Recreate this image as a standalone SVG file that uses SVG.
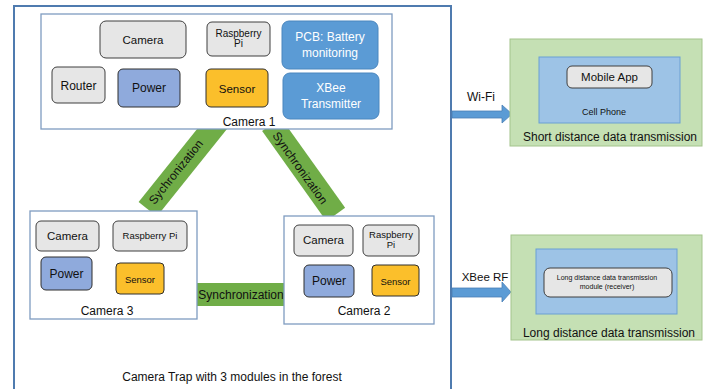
<svg xmlns="http://www.w3.org/2000/svg" width="708" height="389" viewBox="0 0 708 389">
<style>
text{font-family:"Liberation Sans",Arial,sans-serif;fill:#111;text-anchor:middle}
.gray{fill:#E6E6E6;stroke:#3F3F3F;stroke-width:1}
.pow{fill:#8FAADC;stroke:#2F2F2F;stroke-width:1}
.sen{fill:#FBBF2B;stroke:#2F2F2F;stroke-width:1}
.blue{fill:#5B9BD5;stroke:#4A86BE;stroke-width:1}
.cam{fill:#fff;stroke:#7F9CC0;stroke-width:1.3}
.band{fill:#70AD47}
.arrow{fill:#5B9BD5;stroke:#4A7FB5;stroke-width:0.8}
.grn{fill:#C5E0B4;stroke:#A3C48C;stroke-width:1}
.inner{fill:#9DC3E6;stroke:#6A9FD3;stroke-width:1}
.w{fill:#fff}
</style>
<rect x="14" y="6" width="437" height="400" fill="none" stroke="#4F7BAF" stroke-width="2"/>
<g id="connectors">
<g id="sync-1-3">
<rect class="band" transform="translate(183.5,164.6) rotate(-51.3)" x="-57.2" y="-11.7" width="114.4" height="23.4"/>
<text transform="translate(176,172) rotate(-51.3)" x="0" y="4" font-size="12">Sychronization</text>
</g>
<g id="sync-1-2">
<rect class="band" transform="translate(303.6,169.4) rotate(54.5)" x="-55.3" y="-11.5" width="110.7" height="23"/>
<text transform="translate(300,168) rotate(54.5)" x="0" y="4" font-size="12">Synchronization</text>
</g>
<g id="sync-3-2">
<rect class="band" x="196" y="283" width="89" height="23"/>
<text x="241" y="299" font-size="12">Synchronization</text>
</g>
<g id="wifi">
<polygon class="arrow" points="452,111 502,111 502,105 512,114 502,123 502,118 452,118"/>
<text x="481" y="101" font-size="12">Wi-Fi</text>
</g>
<g id="xbee-rf">
<polygon class="arrow" points="452,288 502,288 502,282 511,292 502,302 502,297 452,297"/>
<text x="485" y="281" font-size="11.5">XBee RF</text>
</g>
</g>
<g id="camera1">
<rect class="cam" x="41" y="14" width="351" height="115"/>
<g id="c1-camera"><rect class="gray" x="100" y="21" width="86" height="37" rx="6"/><text x="143" y="44" font-size="11.5">Camera</text></g>
<g id="c1-pi"><rect class="gray" x="207" y="22" width="63" height="34" rx="5"/><text x="238.5" y="36.5" font-size="10">Raspberry</text><text x="238.5" y="46.5" font-size="10">Pi</text></g>
<g id="c1-pcb"><rect class="blue" x="282" y="21" width="96" height="48" rx="7"/><text class="w" x="330" y="41" font-size="12">PCB: Battery</text><text class="w" x="330" y="57" font-size="12">monitoring</text></g>
<g id="c1-xbee"><rect class="blue" x="283" y="73" width="96" height="46" rx="7"/><text class="w" x="331" y="92" font-size="12">XBee</text><text class="w" x="331" y="108" font-size="12">Transmitter</text></g>
<g id="c1-router"><rect class="gray" x="52" y="67" width="53" height="36" rx="5"/><text x="78.5" y="90" font-size="12">Router</text></g>
<g id="c1-power"><rect class="pow" x="118" y="69" width="62" height="38" rx="5"/><text x="149" y="92" font-size="12">Power</text></g>
<g id="c1-sensor"><rect class="sen" x="206" y="69" width="62" height="38" rx="5"/><text x="237" y="93" font-size="11.5">Sensor</text></g>
<text x="249" y="126" font-size="12">Camera 1</text>
</g>
<g id="camera3">
<rect class="cam" x="30" y="211" width="167" height="108"/>
<g id="c3-camera"><rect class="gray" x="36" y="221" width="63" height="30" rx="5"/><text x="67.5" y="240" font-size="11.5">Camera</text></g>
<g id="c3-pi"><rect class="gray" x="113" y="221" width="74" height="30" rx="5"/><text x="150" y="238.5" font-size="9.5">Raspberry Pi</text></g>
<g id="c3-power"><rect class="pow" x="41" y="257" width="51" height="33" rx="5"/><text x="66.5" y="278" font-size="12">Power</text></g>
<g id="c3-sensor"><rect class="sen" x="116" y="263" width="48" height="31" rx="4"/><text x="140" y="282.5" font-size="9.5">Sensor</text></g>
<text x="107" y="315" font-size="12">Camera 3</text>
</g>
<g id="camera2">
<rect class="cam" x="284" y="216" width="150" height="108"/>
<g id="c2-camera"><rect class="gray" x="294" y="225" width="59" height="31" rx="5"/><text x="323.5" y="244" font-size="11.5">Camera</text></g>
<g id="c2-pi"><rect class="gray" x="363" y="225" width="56" height="31" rx="5"/><text x="391" y="237.5" font-size="9.5">Raspberry</text><text x="391" y="247.5" font-size="9.5">Pi</text></g>
<g id="c2-power"><rect class="pow" x="304" y="265" width="50" height="32" rx="5"/><text x="329" y="285" font-size="12">Power</text></g>
<g id="c2-sensor"><rect class="sen" x="372" y="265" width="47" height="31" rx="4"/><text x="395.5" y="284.5" font-size="9.5">Sensor</text></g>
<text x="364" y="315" font-size="12">Camera 2</text>
</g>
<text x="232" y="381" font-size="12">Camera Trap with 3 modules in the forest</text>
<g id="short-distance">
<rect class="grn" x="510" y="39" width="192" height="107"/>
<rect class="inner" x="539" y="57" width="141" height="66"/>
<g id="mobile-app"><rect class="gray" x="567" y="66" width="85" height="22" rx="5"/><text x="609.5" y="81" font-size="11.5">Mobile App</text></g>
<text x="604" y="115" font-size="9">Cell Phone</text>
<text x="610" y="141" font-size="12">Short distance data transmission</text>
</g>
<g id="long-distance">
<rect class="grn" x="511" y="235" width="191" height="105"/>
<rect class="inner" x="536" y="249" width="141" height="65"/>
<g id="receiver"><rect class="gray" x="544" y="268" width="128" height="29" rx="6"/><text x="607" y="279.5" font-size="7">Long distance data transmission</text><text x="607" y="288.5" font-size="7">module (receiver)</text></g>
<text x="609" y="337" font-size="12">Long distance data transmission</text>
</g>
</svg>
